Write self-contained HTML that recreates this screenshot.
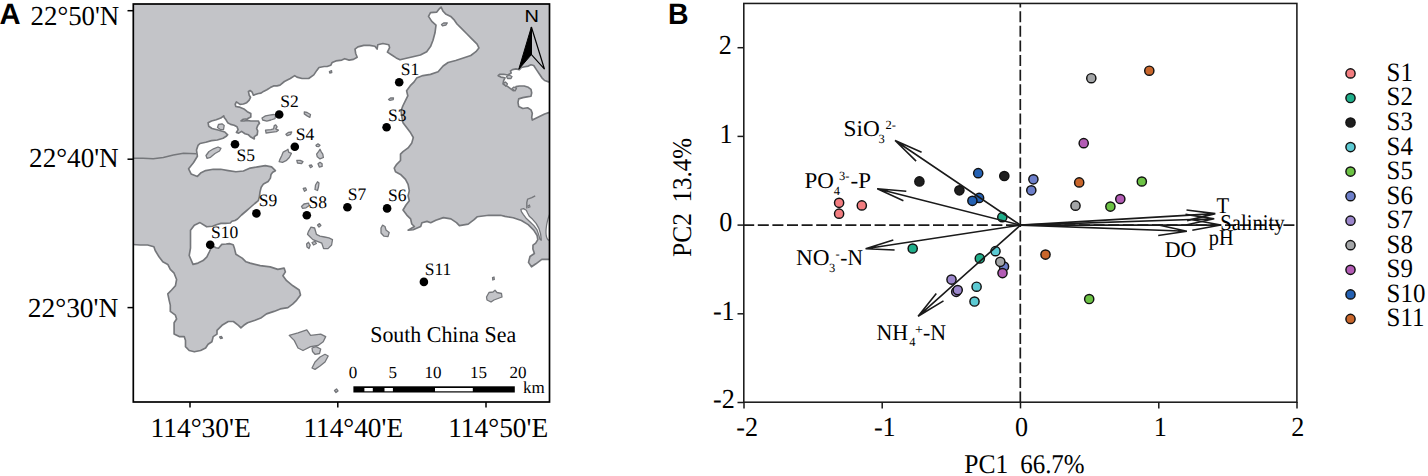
<!DOCTYPE html>
<html><head><meta charset="utf-8"><style>
html,body{margin:0;padding:0;background:#fff;}
body{width:1428px;height:476px;overflow:hidden;}
svg{display:block;text-rendering:geometricPrecision;}
.serif{font-family:"Liberation Serif",serif;}
.sans{font-family:"Liberation Sans",sans-serif;}
</style></head><body>
<svg width="1428" height="476" viewBox="0 0 1428 476">
<defs><clipPath id="mapclip"><rect x="133.3" y="4" width="416.2" height="398"/></clipPath></defs>
<g clip-path="url(#mapclip)">
<rect x="130" y="0" width="425" height="410" fill="#c3c4c8"/>
<path d="M131.0,244.5 L133.0,244.5 L140.1,245.0 L147.6,245.0 L153.9,246.7 L155.2,250.5 L159.0,256.8 L162.8,261.8 L167.8,264.4 L170.3,269.4 L174.1,273.2 L176.6,279.5 L175.4,285.8 L171.6,290.0 L167.8,293.8 L169.1,300.1 L170.3,305.1 L170.3,311.4 L175.4,315.2 L176.6,319.0 L174.1,322.8 L174.1,327.8 L174.1,334.1 L179.2,336.6 L184.2,336.6 L185.5,340.4 L185.5,346.7 L189.2,350.5 L194.3,351.8 L200.6,350.5 L205.6,348.0 L208.1,344.2 L211.9,341.7 L213.2,336.6 L217.0,334.1 L217.0,330.3 L222.0,325.3 L228.3,321.5 L233.4,321.5 L238.4,325.3 L240.9,327.8 L243.8,325.3 L247.6,322.8 L255.1,320.2 L261.4,317.7 L266.5,313.9 L274.0,311.4 L280.3,308.9 L287.9,307.6 L292.9,303.9 L296.7,300.1 L300.5,295.0 L299.2,290.0 L292.9,285.8 L286.6,280.7 L282.9,275.7 L285.4,271.9 L284.1,268.1 L277.8,269.4 L270.2,266.9 L260.2,265.6 L250.1,263.1 L246.0,261.8 L242.2,258.1 L235.9,254.3 L234.5,248.6 L233.2,244.8 L229.4,243.6 L226.1,244.0 L221.8,244.4 L218.5,248.2 L216.0,247.8 L213.5,246.5 L211.5,247.0 L209.5,251.5 L206.9,256.8 L203.1,260.6 L198.0,263.1 L193.0,264.4 L189.2,255.5 L190.5,248.0 L190.5,240.4 L190.5,230.3 L194.3,225.3 L200.0,222.6 L206.7,226.8 L212.6,226.3 L217.0,224.5 L221.0,223.4 L225.2,223.4 L230.3,223.0 L231.9,221.3 L235.0,220.5 L237.5,219.0 L241.5,215.0 L246.2,211.0 L250.8,207.0 L254.8,203.5 L258.3,200.6 L259.4,196.6 L260.0,191.9 L261.2,187.3 L263.5,183.9 L268.1,181.5 L270.4,178.1 L271.0,174.6 L272.7,172.3 L275.4,170.7 L271.6,166.9 L265.3,165.6 L257.7,166.9 L250.2,168.1 L243.4,171.0 L235.9,171.8 L228.3,170.6 L220.7,169.3 L213.2,169.3 L205.6,170.6 L200.6,173.1 L197.4,176.4 L191.1,173.9 L188.6,168.8 L193.6,162.5 L197.4,156.2 L196.5,150.0 L198.0,145.4 L200.0,143.5 L205.8,142.3 L211.5,140.6 L217.3,140.0 L223.1,138.3 L226.6,136.0 L227.7,134.8 L224.8,132.0 L218.0,130.0 L212.0,128.5 L208.7,126.2 L208.1,122.7 L211.5,121.0 L216.2,119.8 L220.8,118.1 L223.7,115.8 L224.2,117.5 L226.0,119.8 L227.7,122.7 L230.6,124.4 L234.1,125.3 L237.0,126.8 L238.1,129.6 L236.4,132.5 L238.7,133.1 L241.6,131.4 L245.0,133.7 L248.5,134.8 L250.8,137.1 L254.3,138.9 L254.3,136.6 L257.2,134.8 L257.7,130.8 L256.6,128.5 L257.7,125.6 L259.5,123.3 L258.3,121.0 L254.3,121.0 L250.8,121.0 L247.3,120.4 L243.9,121.0 L241.0,121.0 L243.3,119.2 L247.3,118.7 L250.8,116.9 L250.8,113.5 L247.3,111.7 L243.9,108.9 L239.3,107.1 L235.8,106.5 L235.2,104.2 L236.4,101.9 L240.0,104.4 L243.4,104.0 L246.7,102.7 L249.2,100.2 L250.5,97.3 L249.2,95.2 L248.4,91.4 L250.1,90.5 L252.2,92.2 L253.4,95.2 L256.0,94.3 L258.5,93.5 L261.0,93.1 L263.5,91.4 L266.9,89.7 L270.3,87.6 L273.6,85.9 L277.0,85.9 L280.0,85.1 L284.4,81.5 L290.3,78.5 L294.7,75.6 L296.9,77.1 L302.1,78.5 L308.7,78.5 L313.8,74.9 L316.8,70.4 L319.0,67.5 L324.1,66.5 L327.1,66.5 L330.7,65.3 L332.2,62.4 L335.9,60.9 L341.8,60.1 L344.7,58.7 L349.1,60.1 L353.5,59.4 L357.2,57.2 L355.7,53.5 L355.0,49.1 L357.9,46.9 L363.8,45.4 L369.7,45.4 L374.9,46.2 L377.1,49.1 L377.8,44.7 L382.9,43.5 L388.8,44.7 L389.6,47.6 L387.4,52.1 L391.8,55.0 L396.2,57.9 L400.0,59.8 L405.3,58.5 L412.9,56.7 L420.4,55.0 L426.7,51.7 L430.5,46.6 L433.0,40.3 L435.0,32.8 L436.0,25.2 L431.8,21.4 L428.5,16.4 L430.5,12.6 L436.8,12.1 L439.3,8.8 L441.1,7.1 L443.1,11.3 L445.6,13.9 L450.7,16.4 L454.4,20.2 L457.0,24.0 L460.7,27.7 L467.0,34.0 L470.8,37.8 L477.1,44.1 L478.9,47.9 L475.9,51.7 L470.8,55.5 L463.3,58.0 L455.7,60.5 L448.1,62.5 L443.1,66.0 L438.1,71.8 L430.5,74.4 L422.9,75.6 L416.6,78.1 L414.1,81.9 L410.3,85.7 L406.6,90.7 L407.8,95.8 L405.3,100.8 L402.8,106.0 L401.0,111.0 L402.0,117.6 L403.0,122.7 L406.8,127.7 L410.6,132.8 L413.3,137.5 L411.8,142.9 L408.1,147.9 L403.0,151.7 L400.5,154.2 L400.5,160.5 L396.7,164.3 L394.2,168.1 L395.5,171.8 L400.5,174.4 L405.5,179.4 L408.1,184.4 L409.3,190.7 L408.1,195.8 L409.3,200.8 L406.0,205.0 L403.0,210.0 L406.8,215.1 L410.6,218.9 L411.8,224.0 L414.4,226.5 L408.1,230.2 L413.1,229.7 L420.7,226.5 L421.9,222.7 L427.0,221.4 L430.7,222.7 L435.8,220.2 L443.4,217.6 L450.9,218.9 L456.5,222.6 L459.4,225.6 L468.2,224.1 L474.1,219.7 L477.1,216.8 L488.8,215.3 L500.6,215.3 L505.0,216.4 L513.2,217.8 L521.4,220.5 L528.2,224.6 L533.7,230.1 L537.1,235.5 L537.8,239.6 L535.7,243.1 L533.0,245.1 L532.9,249.1 L534.4,253.5 L530.0,256.5 L528.5,262.4 L531.5,266.8 L535.9,263.8 L541.8,259.4 L547.6,259.4 L552.0,259.4 L552.0,404.0 L131.0,404.0 Z" fill="#fff" stroke="#75777b" stroke-width="1.65" stroke-linejoin="round"/>
<path d="M552.0,81.9 L548.7,81.9 L544.6,80.5 L541.9,77.8 L539.2,73.7 L536.4,69.6 L533.7,65.5 L531.0,64.8 L528.3,66.1 L524.8,66.8 L521.4,67.5 L519.4,69.6 L516.0,68.9 L512.5,69.6 L510.5,70.9 L511.2,73.0 L507.8,75.0 L503.7,74.3 L499.6,74.3 L498.2,75.7 L500.9,77.1 L505.0,77.8 L503.7,80.5 L503.0,83.9 L505.0,85.3 L507.8,86.6 L510.5,88.7 L513.2,90.7 L515.3,89.4 L516.0,86.6 L519.4,86.0 L524.2,86.0 L528.3,87.3 L531.0,89.4 L531.7,92.8 L531.0,96.2 L526.9,96.9 L522.8,97.6 L518.7,98.9 L518.0,102.3 L518.7,106.4 L522.8,108.5 L527.6,107.8 L531.0,109.9 L532.3,113.3 L531.7,117.4 L532.3,120.1 L536.4,118.1 L540.5,116.0 L544.6,114.0 L548.7,112.6 L552.0,112.6 Z" fill="#fff" stroke="#75777b" stroke-width="1.65" stroke-linejoin="round"/>
<path d="M520.9,209.3 L523.5,208.6 L526.3,210.2 L527.6,213 L529.3,216.3 L532.6,219.3 L536.1,223.4 L538.9,228.4 L540.6,234 L541.3,240.2 L539.9,239.2 L538.7,234.6 L536.9,229.6 L533.9,225.6 L530.4,222.2 L526.4,218.6 L523.4,214.6 L521.4,211.6 Z" fill="#fff" stroke="#75777b" stroke-width="1.3" stroke-linejoin="round"/>
<path d="M526.8,208.6 L526.8,202.6 L527.6,199.2 L531.8,197.6 L535.2,195.9" fill="none" stroke="#75777b" stroke-width="1.4"/>
<path d="M527.8,206 L529.5,205 L530,207 L528.3,207.6 Z" fill="#c3c4c8" stroke="#75777b" stroke-width="1.1"/>
<path d="M549.5,214.4 C547,220 545.3,230 546.3,236 C547,239 548.5,240.4 549.5,240.4 Z" fill="#fff" stroke="#75777b" stroke-width="1.2"/>
<path d="M130,158.2 L143.1,158.2 L153.2,158.7 L163.3,157.5 L173.4,154.9 L183.5,153.2 L196.5,153.7" fill="none" stroke="#75777b" stroke-width="1.5"/>
<path d="M262.0,118.0 L265.5,115.9 L269.5,115.2 L273.6,114.5 L275.7,115.2 L275.0,118.6 L270.9,120.0 L266.8,121.1 L262.7,120.0 Z" fill="#c3c4c8" stroke="#75777b" stroke-width="1.3" stroke-linejoin="round"/>
<path d="M265.5,130.2 L270.9,129.6 L273.6,128.9 L274.3,125.5 L275.7,124.8 L277.1,126.8 L275.7,128.9 L278.4,130.2 L276.4,131.6 L270.9,132.3 L266.1,133.0 Z" fill="#c3c4c8" stroke="#75777b" stroke-width="1.3" stroke-linejoin="round"/>
<path d="M304.3,111.8 L307.1,112.5 L310.5,114.5 L309.8,117.3 L307.1,115.9 L304.3,113.9 Z" fill="#c3c4c8" stroke="#75777b" stroke-width="1.3" stroke-linejoin="round"/>
<path d="M285.9,134.3 L288.6,132.3 L291.7,132.0 L290.7,134.3 L287.3,135.7 Z" fill="#c3c4c8" stroke="#75777b" stroke-width="1.3" stroke-linejoin="round"/>
<path d="M279.8,159.6 L281.8,155.5 L283.2,152.1 L285.9,150.7 L288.0,149.3 L288.6,152.1 L291.4,153.4 L289.3,157.5 L286.6,160.3 L282.5,162.3 L279.1,161.6 Z" fill="#c3c4c8" stroke="#75777b" stroke-width="1.3" stroke-linejoin="round"/>
<path d="M296.8,160.3 L300.2,160.3 L303.0,161.6 L301.6,163.7 L297.5,163.0 Z" fill="#c3c4c8" stroke="#75777b" stroke-width="1.3" stroke-linejoin="round"/>
<path d="M315.9,145.2 L318.0,143.9 L320.0,145.2 L318.7,146.6 L316.6,146.3 Z" fill="#c3c4c8" stroke="#75777b" stroke-width="1.3" stroke-linejoin="round"/>
<path d="M317.3,156.8 L316.6,154.1 L318.7,151.4 L320.0,149.3 L321.4,152.1 L322.8,154.1 L323.4,157.5 L320.0,158.9 Z" fill="#c3c4c8" stroke="#75777b" stroke-width="1.3" stroke-linejoin="round"/>
<path d="M318.0,163.7 L320.0,162.3 L322.1,163.7 L322.1,166.4 L319.3,167.1 Z" fill="#c3c4c8" stroke="#75777b" stroke-width="1.3" stroke-linejoin="round"/>
<path d="M309.2,165.5 L311.5,165.0 L312.4,166.5 L310.5,167.6 Z" fill="#c3c4c8" stroke="#75777b" stroke-width="1.3" stroke-linejoin="round"/>
<path d="M303.2,188.5 L305.5,187.9 L306.5,190.0 L304.5,191.3 Z" fill="#c3c4c8" stroke="#75777b" stroke-width="1.3" stroke-linejoin="round"/>
<path d="M315.0,189.5 L315.5,185.0 L317.5,181.8 L319.0,183.0 L318.5,187.0 L317.5,190.5 Z" fill="#c3c4c8" stroke="#75777b" stroke-width="1.3" stroke-linejoin="round"/>
<path d="M301.5,206.5 L304.0,204.0 L308.5,203.2 L309.3,205.5 L306.0,207.8 L302.5,208.3 Z" fill="#c3c4c8" stroke="#75777b" stroke-width="1.3" stroke-linejoin="round"/>
<path d="M317.5,225.0 L319.5,223.6 L320.9,225.5 L319.0,227.1 Z" fill="#c3c4c8" stroke="#75777b" stroke-width="1.3" stroke-linejoin="round"/>
<path d="M308.4,231.6 L311.0,227.1 L314.6,228.0 L316.4,234.3 L320.0,236.1 L324.5,237.0 L328.9,237.9 L332.5,239.6 L331.6,245.0 L328.0,248.6 L323.6,248.6 L321.8,243.2 L317.3,241.4 L312.9,239.6 L310.2,237.0 L307.5,234.3 Z" fill="#c3c4c8" stroke="#75777b" stroke-width="1.3" stroke-linejoin="round"/>
<path d="M306.6,244.0 L308.5,242.3 L310.2,245.0 L309.0,248.6 L307.0,247.0 Z" fill="#c3c4c8" stroke="#75777b" stroke-width="1.3" stroke-linejoin="round"/>
<path d="M312.0,242.5 L315.0,241.4 L316.4,243.5 L313.5,245.0 Z" fill="#c3c4c8" stroke="#75777b" stroke-width="1.3" stroke-linejoin="round"/>
<path d="M381.0,228.0 L382.5,225.2 L385.0,226.5 L386.0,230.0 L389.2,232.5 L388.0,236.6 L384.0,236.2 L381.0,233.0 Z" fill="#c3c4c8" stroke="#75777b" stroke-width="1.3" stroke-linejoin="round"/>
<path d="M289.2,335.4 L298.0,332.9 L306.8,329.8 L310.6,335.4 L320.7,334.1 L325.7,336.6 L323.2,341.7 L318.1,345.5 L310.6,346.7 L303.0,350.5 L298.0,348.0 L294.2,340.4 Z" fill="#c3c4c8" stroke="#75777b" stroke-width="1.3" stroke-linejoin="round"/>
<path d="M312.0,348.0 L316.0,346.7 L320.7,349.0 L319.5,353.5 L315.0,354.3 L312.5,351.5 Z" fill="#c3c4c8" stroke="#75777b" stroke-width="1.3" stroke-linejoin="round"/>
<path d="M312.0,368.0 L315.0,362.0 L320.0,357.0 L325.0,354.3 L328.2,356.0 L325.0,362.0 L320.0,366.0 L315.0,369.4 Z" fill="#c3c4c8" stroke="#75777b" stroke-width="1.3" stroke-linejoin="round"/>
<path d="M334.5,390.5 L336.5,389.0 L338.0,391.0 L336.0,392.5 Z" fill="#c3c4c8" stroke="#75777b" stroke-width="1.3" stroke-linejoin="round"/>
<path d="M486.5,297.0 L489.0,292.5 L493.0,292.0 L495.0,290.3 L497.0,292.5 L501.5,293.5 L502.0,297.0 L498.0,298.5 L494.0,300.0 L491.0,302.0 L487.0,300.0 Z" fill="#c3c4c8" stroke="#75777b" stroke-width="1.3" stroke-linejoin="round"/>
<path d="M492.5,277.5 L494.0,277.0 L494.3,279.5 L492.8,280.0 Z" fill="#c3c4c8" stroke="#75777b" stroke-width="1.3" stroke-linejoin="round"/>
<path d="M219.5,337.0 L221.5,336.5 L222.5,338.0 L220.5,338.5 Z" fill="#c3c4c8" stroke="#75777b" stroke-width="1.3" stroke-linejoin="round"/>
<path d="M441.5,24.5 L444.0,22.8 L447.3,23.0 L446.0,25.0 L442.5,25.8 Z" fill="#c3c4c8" stroke="#75777b" stroke-width="1.3" stroke-linejoin="round"/>
<path d="M388.5,99.5 L390.5,98.0 L393.5,97.8 L393.2,99.6 L390.0,100.4 Z" fill="#c3c4c8" stroke="#75777b" stroke-width="1.3" stroke-linejoin="round"/>
<path d="M218.5,124.5 L222.0,123.8 L224.2,125.5 L223.5,129.6 L220.0,129.3 L217.5,127.5 Z" fill="#c3c4c8" stroke="#75777b" stroke-width="1.3" stroke-linejoin="round"/>
<path d="M506.5,76.5 L509.0,75.0 L512.0,76.5 L511.0,78.5 L507.5,78.5 Z" fill="#c3c4c8" stroke="#75777b" stroke-width="1.3" stroke-linejoin="round"/>
<path d="M503.5,83.0 L505.5,82.0 L507.5,84.0 L505.5,86.0 Z" fill="#c3c4c8" stroke="#75777b" stroke-width="1.3" stroke-linejoin="round"/>
<path d="M512.0,88.5 L514.0,87.0 L516.5,88.5 L515.0,91.0 Z" fill="#c3c4c8" stroke="#75777b" stroke-width="1.3" stroke-linejoin="round"/>
<path d="M329.4,71.5 L331.5,70.6 L331.8,72.5 L329.8,73.0 Z" fill="#c3c4c8" stroke="#75777b" stroke-width="1.3" stroke-linejoin="round"/>
<path d="M206.0,155.5 L209.0,151.5 L213.5,148.8 L218.0,147.0 L221.0,148.3 L219.5,151.0 L215.0,153.5 L210.5,157.3 L207.0,158.3 Z" fill="#c3c4c8" stroke="#75777b" stroke-width="1.3" stroke-linejoin="round"/>
</g>
<circle cx="399.2" cy="82.3" r="4.3" fill="#000"/>
<circle cx="279.2" cy="114.5" r="4.3" fill="#000"/>
<circle cx="386.6" cy="127.2" r="4.3" fill="#000"/>
<circle cx="294.8" cy="146.7" r="4.3" fill="#000"/>
<circle cx="235.0" cy="144.2" r="4.3" fill="#000"/>
<circle cx="387.1" cy="208.4" r="4.3" fill="#000"/>
<circle cx="347.4" cy="207.3" r="4.3" fill="#000"/>
<circle cx="306.8" cy="215.2" r="4.3" fill="#000"/>
<circle cx="256.4" cy="213.4" r="4.3" fill="#000"/>
<circle cx="210.2" cy="244.7" r="4.3" fill="#000"/>
<circle cx="423.9" cy="281.9" r="4.3" fill="#000"/>
<path d="M531.4,27 L518.8,69.2 L531.4,54.6 Z" fill="#000" stroke="#000" stroke-width="1"/>
<path d="M531.4,27 L544.5,69.2 L531.4,54.6 Z" fill="none" stroke="#000" stroke-width="1.2" stroke-linejoin="miter"/>
<rect x="353.4" y="386.3" width="161.4" height="6.2" fill="#000"/>
<rect x="364.4" y="388" width="8.4" height="3.3" fill="#fff"/>
<rect x="384.5" y="388" width="8.4" height="3.3" fill="#fff"/>
<rect x="435.0" y="388" width="37.8" height="3.3" fill="#fff"/>
<rect x="133.3" y="4" width="416.2" height="398" fill="none" stroke="#000" stroke-width="1.7"/>
<line x1="127.5" y1="10.7" x2="133.3" y2="10.7" stroke="#000" stroke-width="1.5"/>
<line x1="127.5" y1="159.2" x2="133.3" y2="159.2" stroke="#000" stroke-width="1.5"/>
<line x1="127.5" y1="307.6" x2="133.3" y2="307.6" stroke="#000" stroke-width="1.5"/>
<line x1="190.0" y1="402" x2="190.0" y2="407.6" stroke="#000" stroke-width="1.5"/>
<line x1="337.8" y1="402" x2="337.8" y2="407.6" stroke="#000" stroke-width="1.5"/>
<line x1="486.0" y1="402" x2="486.0" y2="407.6" stroke="#000" stroke-width="1.5"/>
<line x1="743.2" y1="225.1" x2="1296" y2="225.1" stroke="#1a1a1a" stroke-width="1.7" stroke-dasharray="11 3.6"/>
<line x1="1020.3" y1="3.8" x2="1020.3" y2="402" stroke="#1a1a1a" stroke-width="1.7" stroke-dasharray="11 3.627" stroke-dashoffset="7.227"/>
<circle cx="839.1" cy="202.8" r="4.6" fill="#f27d80" stroke="#111" stroke-width="1.45"/>
<circle cx="839.1" cy="213.7" r="4.6" fill="#f27d80" stroke="#111" stroke-width="1.45"/>
<circle cx="861.8" cy="205.4" r="4.6" fill="#f27d80" stroke="#111" stroke-width="1.45"/>
<circle cx="912.7" cy="248.5" r="4.6" fill="#1fae8a" stroke="#111" stroke-width="1.45"/>
<circle cx="979.8" cy="258.4" r="4.6" fill="#1fae8a" stroke="#111" stroke-width="1.45"/>
<circle cx="1002.3" cy="217.2" r="4.6" fill="#1fae8a" stroke="#111" stroke-width="1.45"/>
<circle cx="919.4" cy="181.4" r="4.6" fill="#1e1e1e" stroke="#111" stroke-width="1.45"/>
<circle cx="959.4" cy="190.3" r="4.6" fill="#1e1e1e" stroke="#111" stroke-width="1.45"/>
<circle cx="1004.3" cy="176.0" r="4.6" fill="#1e1e1e" stroke="#111" stroke-width="1.45"/>
<circle cx="995.5" cy="251.2" r="4.6" fill="#5ccad3" stroke="#111" stroke-width="1.45"/>
<circle cx="976.6" cy="286.7" r="4.6" fill="#5ccad3" stroke="#111" stroke-width="1.45"/>
<circle cx="974.5" cy="301.5" r="4.6" fill="#5ccad3" stroke="#111" stroke-width="1.45"/>
<circle cx="1141.8" cy="181.5" r="4.6" fill="#6cc244" stroke="#111" stroke-width="1.45"/>
<circle cx="1110.4" cy="206.6" r="4.6" fill="#6cc244" stroke="#111" stroke-width="1.45"/>
<circle cx="1089.2" cy="299.0" r="4.6" fill="#6cc244" stroke="#111" stroke-width="1.45"/>
<circle cx="1033.4" cy="179.3" r="4.6" fill="#6d7fca" stroke="#111" stroke-width="1.45"/>
<circle cx="1031.3" cy="190.3" r="4.6" fill="#6d7fca" stroke="#111" stroke-width="1.45"/>
<circle cx="1004.0" cy="266.5" r="4.6" fill="#6d7fca" stroke="#111" stroke-width="1.45"/>
<circle cx="951.5" cy="279.6" r="4.6" fill="#9b86cb" stroke="#111" stroke-width="1.45"/>
<circle cx="956.2" cy="291.8" r="4.6" fill="#9b86cb" stroke="#111" stroke-width="1.45"/>
<circle cx="957.7" cy="290.1" r="4.6" fill="#9b86cb" stroke="#111" stroke-width="1.45"/>
<circle cx="1091.3" cy="78.2" r="4.6" fill="#a3a5a7" stroke="#111" stroke-width="1.45"/>
<circle cx="1075.5" cy="205.7" r="4.6" fill="#a3a5a7" stroke="#111" stroke-width="1.45"/>
<circle cx="1000.3" cy="261.8" r="4.6" fill="#a3a5a7" stroke="#111" stroke-width="1.45"/>
<circle cx="1083.7" cy="143.2" r="4.6" fill="#b35cb5" stroke="#111" stroke-width="1.45"/>
<circle cx="1120.3" cy="199.0" r="4.6" fill="#b35cb5" stroke="#111" stroke-width="1.45"/>
<circle cx="1002.5" cy="273.1" r="4.6" fill="#b35cb5" stroke="#111" stroke-width="1.45"/>
<circle cx="978.2" cy="173.2" r="4.6" fill="#2461b3" stroke="#111" stroke-width="1.45"/>
<circle cx="979.1" cy="197.9" r="4.6" fill="#2461b3" stroke="#111" stroke-width="1.45"/>
<circle cx="972.4" cy="200.8" r="4.6" fill="#2461b3" stroke="#111" stroke-width="1.45"/>
<circle cx="1149.3" cy="70.7" r="4.6" fill="#c9662b" stroke="#111" stroke-width="1.45"/>
<circle cx="1079.2" cy="182.4" r="4.6" fill="#c9662b" stroke="#111" stroke-width="1.45"/>
<circle cx="1045.5" cy="254.6" r="4.6" fill="#c9662b" stroke="#111" stroke-width="1.45"/>
<path d="M1020.5,225.1 L895.1,140.5 M921.6,152.3 L895.1,140.5 L916.1,161.1" fill="none" stroke="#1a1a1a" stroke-width="1.6" stroke-linejoin="miter"/>
<path d="M1020.5,225.1 L877.3,188.8 M906.3,191.3 L877.3,188.8 L903.4,200.7" fill="none" stroke="#1a1a1a" stroke-width="1.6" stroke-linejoin="miter"/>
<path d="M1020.5,225.1 L865.6,248.7 M893.3,240.1 L865.6,248.7 L894.6,250.0" fill="none" stroke="#1a1a1a" stroke-width="1.6" stroke-linejoin="miter"/>
<path d="M1020.5,225.1 L918.1,316.3 M936.3,293.4 L918.1,316.3 L943.5,300.9" fill="none" stroke="#1a1a1a" stroke-width="1.6" stroke-linejoin="miter"/>
<path d="M1020.5,225.1 L1215.3,213.6 M1186.5,210.0 L1215.3,213.6 L1187.1,220.6" fill="none" stroke="#1a1a1a" stroke-width="1.6"/>
<path d="M1020.5,225.1 L1214.2,218.8 M1185.5,214.4 L1214.2,218.8 L1185.9,225.0" fill="none" stroke="#1a1a1a" stroke-width="1.6"/>
<path d="M1020.5,225.1 L1220.8,225.0 M1192.3,219.7 L1220.8,225.0 L1192.3,230.3" fill="none" stroke="#1a1a1a" stroke-width="1.6"/>
<path d="M1020.5,225.1 L1186.9,231.3 M1158.6,225.0 L1186.9,231.3 L1158.2,235.5" fill="none" stroke="#1a1a1a" stroke-width="1.6"/>
<rect x="743.8" y="3.45" width="553.1" height="398.75" fill="none" stroke="#1a1a1a" stroke-width="1.55"/>
<line x1="737.5" y1="47.7" x2="743.8" y2="47.7" stroke="#1a1a1a" stroke-width="1.5"/>
<line x1="737.5" y1="136.4" x2="743.8" y2="136.4" stroke="#1a1a1a" stroke-width="1.5"/>
<line x1="737.5" y1="225.1" x2="743.8" y2="225.1" stroke="#1a1a1a" stroke-width="1.5"/>
<line x1="737.5" y1="313.8" x2="743.8" y2="313.8" stroke="#1a1a1a" stroke-width="1.5"/>
<line x1="737.5" y1="402.5" x2="743.8" y2="402.5" stroke="#1a1a1a" stroke-width="1.5"/>
<line x1="744.0" y1="402" x2="744.0" y2="408.4" stroke="#1a1a1a" stroke-width="1.5"/>
<line x1="882.2" y1="402" x2="882.2" y2="408.4" stroke="#1a1a1a" stroke-width="1.5"/>
<line x1="1020.5" y1="402" x2="1020.5" y2="408.4" stroke="#1a1a1a" stroke-width="1.5"/>
<line x1="1158.8" y1="402" x2="1158.8" y2="408.4" stroke="#1a1a1a" stroke-width="1.5"/>
<line x1="1297.0" y1="402" x2="1297.0" y2="408.4" stroke="#1a1a1a" stroke-width="1.5"/>
<circle cx="1350.5" cy="73.4" r="4.6" fill="#f27d80" stroke="#111" stroke-width="1.45"/>
<circle cx="1350.5" cy="98.0" r="4.6" fill="#1fae8a" stroke="#111" stroke-width="1.45"/>
<circle cx="1350.5" cy="122.5" r="4.6" fill="#1e1e1e" stroke="#111" stroke-width="1.45"/>
<circle cx="1350.5" cy="147.1" r="4.6" fill="#5ccad3" stroke="#111" stroke-width="1.45"/>
<circle cx="1350.5" cy="171.6" r="4.6" fill="#6cc244" stroke="#111" stroke-width="1.45"/>
<circle cx="1350.5" cy="196.2" r="4.6" fill="#6d7fca" stroke="#111" stroke-width="1.45"/>
<circle cx="1350.5" cy="220.7" r="4.6" fill="#9b86cb" stroke="#111" stroke-width="1.45"/>
<circle cx="1350.5" cy="245.2" r="4.6" fill="#a3a5a7" stroke="#111" stroke-width="1.45"/>
<circle cx="1350.5" cy="269.8" r="4.6" fill="#b35cb5" stroke="#111" stroke-width="1.45"/>
<circle cx="1350.5" cy="294.4" r="4.6" fill="#2461b3" stroke="#111" stroke-width="1.45"/>
<circle cx="1350.5" cy="318.9" r="4.6" fill="#c9662b" stroke="#111" stroke-width="1.45"/>
<text transform="translate(-0.60,23.75) scale(0.9900,1)" class="sans" font-size="29.50" font-weight="700" fill="#000">A</text>
<text transform="translate(667.90,23.60) scale(0.9667,1)" class="sans" font-size="29.50" font-weight="700" fill="#000">B</text>
<text transform="translate(30.50,24.95) scale(0.9775,1)" class="serif" font-size="27.50" fill="#000">22°50'N</text>
<text transform="translate(29.10,166.85) scale(0.9865,1)" class="serif" font-size="27.50" fill="#000">22°40'N</text>
<text transform="translate(27.80,317.25) scale(0.9966,1)" class="serif" font-size="27.50" fill="#000">22°30'N</text>
<text transform="translate(150.50,436.50) scale(0.9979,1)" class="serif" font-size="27.50" fill="#000">114°30'E</text>
<text transform="translate(303.50,436.50) scale(0.9906,1)" class="serif" font-size="27.50" fill="#000">114°40'E</text>
<text transform="translate(448.20,436.50) scale(0.9948,1)" class="serif" font-size="27.50" fill="#000">114°50'E</text>
<text transform="translate(524.40,22.10) scale(1.1400,1)" class="sans" font-size="17.50" fill="#000">N</text>
<text transform="translate(370.20,341.70) scale(0.9732,1)" class="serif" font-size="22.50" fill="#000">South China Sea</text>
<text transform="translate(348.70,377.75) scale(1.0000,1)" class="serif" font-size="17.00" fill="#000">0</text>
<text transform="translate(388.60,377.75) scale(1.0000,1)" class="serif" font-size="17.00" fill="#000">5</text>
<text transform="translate(424.60,377.75) scale(1.0000,1)" class="serif" font-size="17.00" fill="#000">10</text>
<text transform="translate(469.90,377.75) scale(1.0000,1)" class="serif" font-size="17.00" fill="#000">15</text>
<text transform="translate(509.60,377.75) scale(1.0000,1)" class="serif" font-size="17.00" fill="#000">20</text>
<text transform="translate(523.00,392.50) scale(1.0000,1)" class="serif" font-size="17.00" fill="#000">km</text>
<text transform="translate(400.80,75.30) scale(1.0000,1)" class="serif" font-size="17.50" fill="#000">S1</text>
<text transform="translate(280.20,106.80) scale(1.0000,1)" class="serif" font-size="17.50" fill="#000">S2</text>
<text transform="translate(388.00,120.50) scale(1.0000,1)" class="serif" font-size="17.50" fill="#000">S3</text>
<text transform="translate(295.80,139.75) scale(1.0000,1)" class="serif" font-size="17.50" fill="#000">S4</text>
<text transform="translate(236.60,161.15) scale(1.0000,1)" class="serif" font-size="17.50" fill="#000">S5</text>
<text transform="translate(388.00,201.15) scale(1.0000,1)" class="serif" font-size="17.50" fill="#000">S6</text>
<text transform="translate(347.80,200.25) scale(1.0000,1)" class="serif" font-size="17.50" fill="#000">S7</text>
<text transform="translate(308.40,208.20) scale(1.0000,1)" class="serif" font-size="17.50" fill="#000">S8</text>
<text transform="translate(258.70,205.70) scale(1.0000,1)" class="serif" font-size="17.50" fill="#000">S9</text>
<text transform="translate(210.90,237.60) scale(1.0000,1)" class="serif" font-size="17.50" fill="#000">S10</text>
<text transform="translate(424.70,275.30) scale(1.0000,1)" class="serif" font-size="17.50" fill="#000">S11</text>
<text transform="translate(718.80,53.70) scale(0.9500,1)" class="serif" font-size="27.50" fill="#000">2</text>
<text transform="translate(719.40,142.85) scale(0.9500,1)" class="serif" font-size="27.50" fill="#000">1</text>
<text transform="translate(719.20,231.40) scale(0.9500,1)" class="serif" font-size="27.50" fill="#000">0</text>
<text transform="translate(712.90,319.85) scale(0.9500,1)" class="serif" font-size="27.50" fill="#000">-1</text>
<text transform="translate(713.00,408.30) scale(0.9500,1)" class="serif" font-size="27.50" fill="#000">-2</text>
<text transform="translate(736.20,436.20) scale(0.9500,1)" class="serif" font-size="27.50" fill="#000">-2</text>
<text transform="translate(873.90,435.85) scale(0.9500,1)" class="serif" font-size="27.50" fill="#000">-1</text>
<text transform="translate(1015.10,436.00) scale(0.9500,1)" class="serif" font-size="27.50" fill="#000">0</text>
<text transform="translate(1153.65,435.95) scale(0.9500,1)" class="serif" font-size="27.50" fill="#000">1</text>
<text transform="translate(1291.20,436.20) scale(0.9500,1)" class="serif" font-size="27.50" fill="#000">2</text>
<text transform="translate(964.20,472.60) scale(0.9455,1)" class="serif" font-size="27.00" fill="#000">PC1</text>
<text transform="translate(1020.20,472.60) scale(0.9235,1)" class="serif" font-size="27.00" fill="#000">66.7%</text>
<text transform="translate(1386.60,80.85) scale(0.9400,1)" class="serif" font-size="26.50" fill="#000">S1</text>
<text transform="translate(1386.60,105.40) scale(0.9400,1)" class="serif" font-size="26.50" fill="#000">S2</text>
<text transform="translate(1386.60,129.95) scale(0.9400,1)" class="serif" font-size="26.50" fill="#000">S3</text>
<text transform="translate(1386.60,154.50) scale(0.9400,1)" class="serif" font-size="26.50" fill="#000">S4</text>
<text transform="translate(1386.60,179.05) scale(0.9400,1)" class="serif" font-size="26.50" fill="#000">S5</text>
<text transform="translate(1386.60,203.60) scale(0.9400,1)" class="serif" font-size="26.50" fill="#000">S6</text>
<text transform="translate(1386.60,228.15) scale(0.9400,1)" class="serif" font-size="26.50" fill="#000">S7</text>
<text transform="translate(1386.60,252.70) scale(0.9400,1)" class="serif" font-size="26.50" fill="#000">S8</text>
<text transform="translate(1386.60,277.25) scale(0.9400,1)" class="serif" font-size="26.50" fill="#000">S9</text>
<text transform="translate(1386.60,301.80) scale(0.9400,1)" class="serif" font-size="26.50" fill="#000">S10</text>
<text transform="translate(1386.60,326.35) scale(0.9400,1)" class="serif" font-size="26.50" fill="#000">S11</text>
<text transform="translate(1216.60,212.60) scale(0.9200,1)" class="serif" font-size="22.50" fill="#000">T</text>
<text transform="translate(1220.25,230.20) scale(0.9191,1)" class="serif" font-size="22.50" fill="#000">Salinity</text>
<text transform="translate(1208.80,244.70) scale(0.9000,1)" class="serif" font-size="22.50" fill="#000">pH</text>
<text transform="translate(1164.70,257.45) scale(0.9742,1)" class="serif" font-size="22.50" fill="#000">DO</text>
<text transform="translate(843.50,136.05) scale(1.0333,1)" class="serif" font-size="22.50" fill="#000">SiO</text>
<text transform="translate(878.60,143.20) scale(1.0000,1)" class="serif" font-size="12.50" fill="#000">3</text>
<text transform="translate(885.50,128.50) scale(1.0000,1)" class="serif" font-size="12.50" fill="#000">2-</text>
<text transform="translate(804.50,188.10) scale(1.0222,1)" class="serif" font-size="22.50" fill="#000">PO</text>
<text transform="translate(833.80,194.75) scale(1.0000,1)" class="serif" font-size="12.50" fill="#000">4</text>
<text transform="translate(839.10,180.40) scale(1.0000,1)" class="serif" font-size="12.50" fill="#000">3-</text>
<text transform="translate(850.50,187.80) scale(1.0222,1)" class="serif" font-size="22.50" fill="#000">-P</text>
<text transform="translate(796.10,265.05) scale(1.0323,1)" class="serif" font-size="22.50" fill="#000">NO</text>
<text transform="translate(828.90,272.40) scale(1.0000,1)" class="serif" font-size="12.50" fill="#000">3</text>
<text transform="translate(835.60,257.60) scale(1.0000,1)" class="serif" font-size="12.50" fill="#000">-</text>
<text transform="translate(840.30,265.20) scale(0.9545,1)" class="serif" font-size="22.50" fill="#000">-N</text>
<text transform="translate(876.40,339.95) scale(0.9742,1)" class="serif" font-size="22.50" fill="#000">NH</text>
<text transform="translate(909.30,346.40) scale(1.0000,1)" class="serif" font-size="12.50" fill="#000">4</text>
<text transform="translate(915.00,333.60) scale(1.0000,1)" class="serif" font-size="14.00" fill="#000">+</text>
<text transform="translate(923.00,339.60) scale(0.9727,1)" class="serif" font-size="22.50" fill="#000">-N</text>
<text transform="translate(691,257) rotate(-90) scale(0.9455,1)" class="serif" font-size="27" fill="#000">PC2</text>
<text transform="translate(691,202.5) rotate(-90) scale(0.9235,1)" class="serif" font-size="27" fill="#000">13.4%</text>
</svg>
</body></html>
